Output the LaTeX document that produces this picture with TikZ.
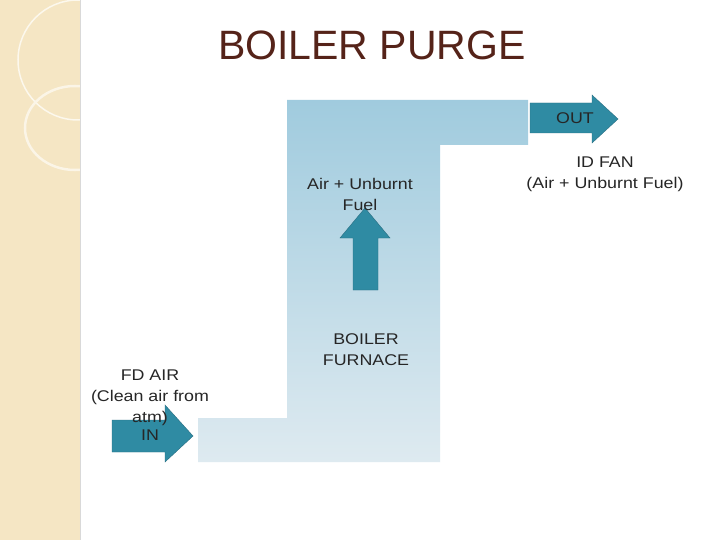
\documentclass[tikz,border=0pt]{standalone}
\usepackage{fontspec}
\setmainfont{Liberation Sans}
\newfontfamily\widefont[FakeStretch=1.15]{Liberation Sans}
\begin{document}
\begin{tikzpicture}[x=1pt,y=-1pt,
  lbl/.style={font=\widefont\fontsize{15.5}{21}\selectfont, align=center, text=black!85},
  arr/.style={fill={rgb,255:red,47;green,139;blue,163}, draw={rgb,255:red,40;green,110;blue,130}}]
\definecolor{beige}{RGB}{245,230,196}
\definecolor{topblue}{RGB}{160,203,222}
\definecolor{botblue}{RGB}{222,234,240}
\useasboundingbox (0,0) rectangle (720,540);
\fill[white] (0,0) rectangle (720,540);
\fill[beige] (0,0) rectangle (80,540);
\begin{scope}
\clip (0,0) rectangle (80,540);
\draw[white!70!beige, line width=1.5pt] (78,60) circle (60);
\draw[white!60!beige, line width=2.5pt] (75,128) circle (50 and 42);
\end{scope}
\draw[black!15, line width=0.6pt] (80,0) -- (80,540);
\node[font=\fontsize{41}{45}\selectfont, text={rgb,255:red,85;green,35;blue,25}] (title) at (372,45) {BOILER PURGE};
\shade[top color=topblue, bottom color=botblue]
  (198,462) -- (440,462) -- (440,145) -- (528,145) -- (528,100) -- (287,100) -- (287,418) -- (198,418) -- cycle;
\draw[arr] (112,420) -- (165,420) -- (165,405) -- (193,436) -- (165,462) -- (165,452) -- (112,452) -- cycle;
\node[lbl] (in) at (150,435) {IN};
\draw[arr] (530,103) -- (592,103) -- (592,95) -- (618,119) -- (592,143) -- (592,133) -- (530,133) -- cycle;
\node[lbl] (out) at (575,118) {OUT};
\draw[arr] (353,290) -- (353,238) -- (340,238) -- (365,208) -- (390,238) -- (378,238) -- (378,290) -- cycle;
\node[lbl] (fd) at (150,398) {FD AIR\\(Clean air from\\atm)};
\node[lbl] (unb) at (360,194) {Air + Unburnt\\Fuel};
\node[lbl] (furn) at (366,350) {BOILER\\FURNACE};
\node[lbl] (id) at (605,174) {ID FAN\\(Air + Unburnt Fuel)};
\end{tikzpicture}
\end{document}
